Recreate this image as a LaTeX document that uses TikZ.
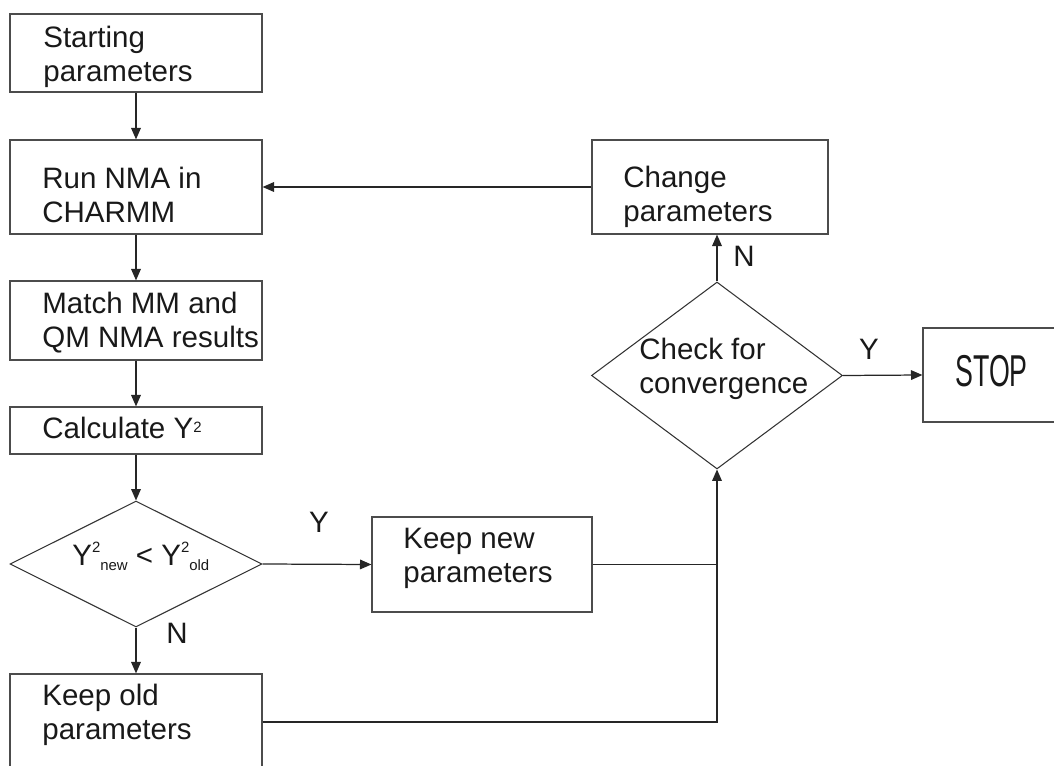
\documentclass[tikz,border=0pt]{standalone}
\usepackage{fontspec}
\setmainfont{Liberation Sans}
\usetikzlibrary{
    arrows.meta,
    shapes.geometric
}
\newcommand{\upidx}[2]{\raisebox{#1}{\fontsize{8.5}{8.5}\selectfont #2}}
\newcommand{\downidx}[1]{\raisebox{-3.4pt}{\fontsize{8.5}{8.5}\selectfont #1}}

\begin{document}
\begin{tikzpicture}[
            x=0.02cm, y=-0.02cm,
            box/.style={draw=black!70, line width=0.7pt, rectangle, inner sep=0pt},
            decision/.style={draw=black!80, line width=0.6pt, diamond, inner sep=0pt},
            box text/.style={inner sep=0pt, anchor=north west, align=left, text=black!90, font=\fontsize{16.8}{19.3}\selectfont},
            answer/.style={inner sep=0pt, text=black!90, font=\fontsize{16.8}{19.3}\selectfont},
            flow/.style={draw=black!85, line width=0.7pt, -{Triangle[length=6.5pt, width=5.5pt]}},
            plain flow/.style={draw=black!85, line width=0.7pt}
        ]
        \clip (0,0) rectangle (1054,766);
        % left column
        \node[box, minimum width=5.04cm, minimum height=1.56cm] (start) at (136,53) {};
        \node[box, minimum width=5.04cm, minimum height=1.88cm] (run) at (136,187) {};
        \node[box, minimum width=5.04cm, minimum height=1.58cm] (match) at (136,320.5) {};
        \node[box, minimum width=5.04cm, minimum height=0.94cm] (calc) at (136,430.5) {};
        \node[decision, minimum width=5.04cm, minimum height=2.52cm] (better) at (136,564) {};
        \node[box, minimum width=5.04cm, minimum height=1.92cm] (keepold) at (136,722) {};
        % right part
        \node[box, minimum width=4.4cm, minimum height=1.9cm] (keepnew) at (482,564.5) {};
        \node[decision, minimum width=5.02cm, minimum height=3.74cm] (converged) at (717,375.5) {};
        \node[box, minimum width=4.72cm, minimum height=1.88cm] (change) at (710,187) {};
        \node[box, minimum width=3.54cm, minimum height=1.88cm] (stop) at (1011.5,375) {};
        % texts
        \node[box text] (start text) at (43,26) {Starting\\parameters};
        \node[box text] (run text) at (42,167) {Run NMA in\\CHARMM};
        \node[box text] (match text) at (42,292) {Match MM and\\QM NMA results};
        \node[box text] (calc text) at (42,417) {Calculate Y\upidx{3.6pt}{2}};
        \node[box text, anchor=base west] (better text) at (72,565)
            {Y\upidx{7.4pt}{2}\downidx{new} < Y\upidx{7.4pt}{2}\downidx{old}};
        \node[box text] (keepold text) at (42,684) {Keep old\\parameters};
        \node[box text] (keepnew text) at (403,528) {Keep new\\parameters};
        \node[box text] (change text) at (623,166) {Change\\parameters};
        \node[box text] (converged text) at (639,338) {Check for\\convergence};
        \node[answer, anchor=base west] (stop text) at (955,387)
            {\scalebox{0.6}[1]{\fontsize{25.4}{26}\selectfont STOP}};
        % answers
        \node[answer] (better yes) at (319,522) {Y};
        \node[answer] (better no) at (177,633) {N};
        \node[answer] (converged no) at (744,256) {N};
        \node[answer] (converged yes) at (869,349) {Y};
        % connectors
        \draw[flow] (start) -- (run);
        \draw[flow] (run) -- (match);
        \draw[flow] (match) -- (calc);
        \draw[flow] (calc) -- (better);
        \draw[flow] (better) -- (keepold);
        \draw[flow] (better.east) -- (keepnew.west);
        \draw[plain flow] (keepnew.east) -- (keepnew.east -| converged.south);
        \draw[flow] (keepold.east) -| (converged.south);
        \draw[flow] (converged.north) -- (converged.north |- change.south);
        \draw[flow] (change.west) -- (run.east);
        \draw[flow] (converged.east) -- (stop.west);
    \end{tikzpicture}
\end{document}
